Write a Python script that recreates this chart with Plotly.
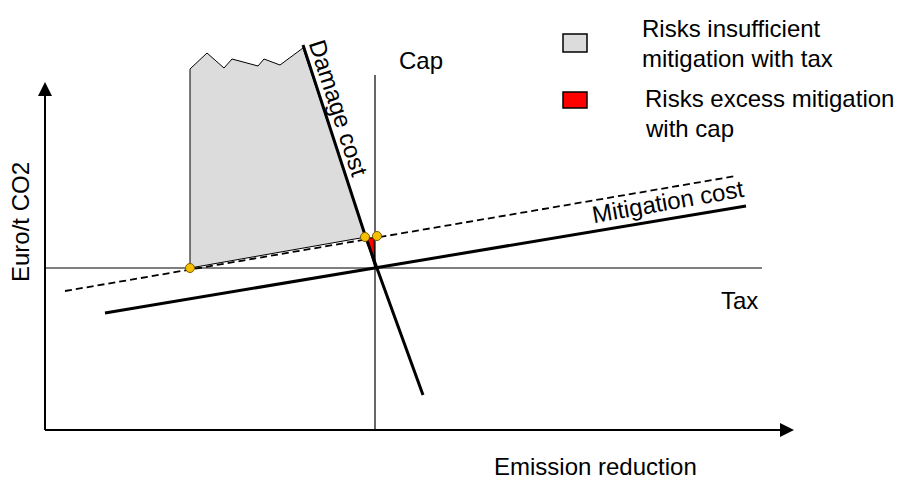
import plotly.graph_objects as go

# ---- Conceptual diagram data (x: emission reduction, y: Euro/t CO2, screen-like units) ----
FONT = "Arial, Liberation Sans, sans-serif"

# axes
y_axis_x = [45, 45]
y_axis_y = [430, 92]
x_axis_x = [45, 782]
x_axis_y = [430, 430]
y_arrow_tip = (45, 82)
x_arrow_tip = (794, 430)

# tax (horizontal) and cap (vertical) reference lines
tax_x = [45, 762]
tax_y = [268, 268]
cap_x = [375, 375]
cap_y = [75, 430]

# mitigation cost (solid) and uncertain mitigation cost (dashed)
mit_x = [105, 746]
mit_y = [313, 206]
mit_dash_x = [65, 736]
mit_dash_y = [291, 176]

# damage cost
dmg_x = [303, 366, 423]
dmg_y = [45, 238, 395]

# grey area: risks insufficient mitigation with tax
grey_x = [190, 190, 207, 224, 232, 247, 258, 264, 280, 303, 366, 190]
grey_y = [268, 69, 53, 68, 59, 63, 66, 59, 65, 48, 237, 268]

# red area: risks excess mitigation with cap
red_x = [366, 374, 375, 366]
red_y = [238, 238, 268, 238]

# intersection dots
dot_x = [190, 365, 377]
dot_y = [268, 237, 236]

# legend
legend_boxes = [(563, 34, 587, 52, "#dcdcdc"), (563, 92, 587, 108, "#ff0000")]
legend_text = [
    (640, 28, "Risks insufficient"),
    (640, 58, "mitigation with tax"),
    (643, 98, "Risks excess mitigation"),
    (643, 128, "with cap"),
]

fig = go.Figure()

fig.add_trace(go.Scatter(x=grey_x, y=grey_y, mode="lines", fill="toself",
                         fillcolor="#dcdcdc", line=dict(color="black", width=1),
                         hoverinfo="skip"))
fig.add_trace(go.Scatter(x=tax_x, y=tax_y, mode="lines", line=dict(color="black", width=1.2)))
fig.add_trace(go.Scatter(x=cap_x, y=cap_y, mode="lines", line=dict(color="black", width=1.2)))
fig.add_trace(go.Scatter(x=y_axis_x, y=y_axis_y, mode="lines", line=dict(color="black", width=2)))
fig.add_trace(go.Scatter(x=x_axis_x, y=x_axis_y, mode="lines", line=dict(color="black", width=2)))
fig.add_trace(go.Scatter(x=mit_dash_x, y=mit_dash_y, mode="lines",
                         line=dict(color="black", width=1.8, dash="7px,4px")))
fig.add_trace(go.Scatter(x=red_x, y=red_y, mode="lines", fill="toself",
                         fillcolor="#ff0000", line=dict(color="black", width=1)))
fig.add_trace(go.Scatter(x=mit_x, y=mit_y, mode="lines", line=dict(color="black", width=3)))
fig.add_trace(go.Scatter(x=dmg_x, y=dmg_y, mode="lines", line=dict(color="black", width=3)))
fig.add_trace(go.Scatter(x=dot_x, y=dot_y, mode="markers",
                         marker=dict(size=9, color="#f5c000", line=dict(color="#7a5a00", width=1))))

annotations = []
# arrowheads
annotations.append(dict(x=y_arrow_tip[0], y=y_arrow_tip[1], ax=y_axis_x[1], ay=y_axis_y[1] + 10,
                        xref="x", yref="y", axref="x", ayref="y", text="", showarrow=True,
                        arrowhead=2, arrowsize=1.4, arrowwidth=2, arrowcolor="black"))
annotations.append(dict(x=x_arrow_tip[0], y=x_arrow_tip[1], ax=x_axis_x[1] - 10, ay=x_axis_y[1],
                        xref="x", yref="y", axref="x", ayref="y", text="", showarrow=True,
                        arrowhead=2, arrowsize=1.4, arrowwidth=2, arrowcolor="black"))

def label(x, y, text, angle=0, xanchor="center"):
    annotations.append(dict(x=x, y=y, xref="x", yref="y", text=text, showarrow=False,
                            textangle=angle, xanchor=xanchor, yanchor="middle",
                            font=dict(family=FONT, size=24, color="black")))

label(421, 60, "Cap")
label(739, 300, "Tax")
label(595, 466, "Emission reduction")
label(20, 222, "Euro/t CO2", angle=-90)
label(339, 108, "Damage cost", angle=72)
label(668, 201, "Mitigation cost", angle=-10)
for lx, ly, t in legend_text:
    label(lx, ly, t, xanchor="left")

shapes = []
for x0, y0, x1, y1, c in legend_boxes:
    shapes.append(dict(type="rect", xref="x", yref="y", x0=x0, y0=y0, x1=x1, y1=y1,
                       fillcolor=c, line=dict(color="black", width=1.5)))

# the page body has an 8px margin: map the plotting area so that units equal screen pixels
fig.update_layout(
    width=894, height=472,
    margin=dict(l=0, r=0, t=0, b=0),
    paper_bgcolor="white", plot_bgcolor="white",
    showlegend=False,
    xaxis=dict(range=[8, 902], visible=False, fixedrange=True),
    yaxis=dict(range=[480, 8], visible=False, fixedrange=True),
    annotations=annotations, shapes=shapes,
)

fig.write_html("out.html")
